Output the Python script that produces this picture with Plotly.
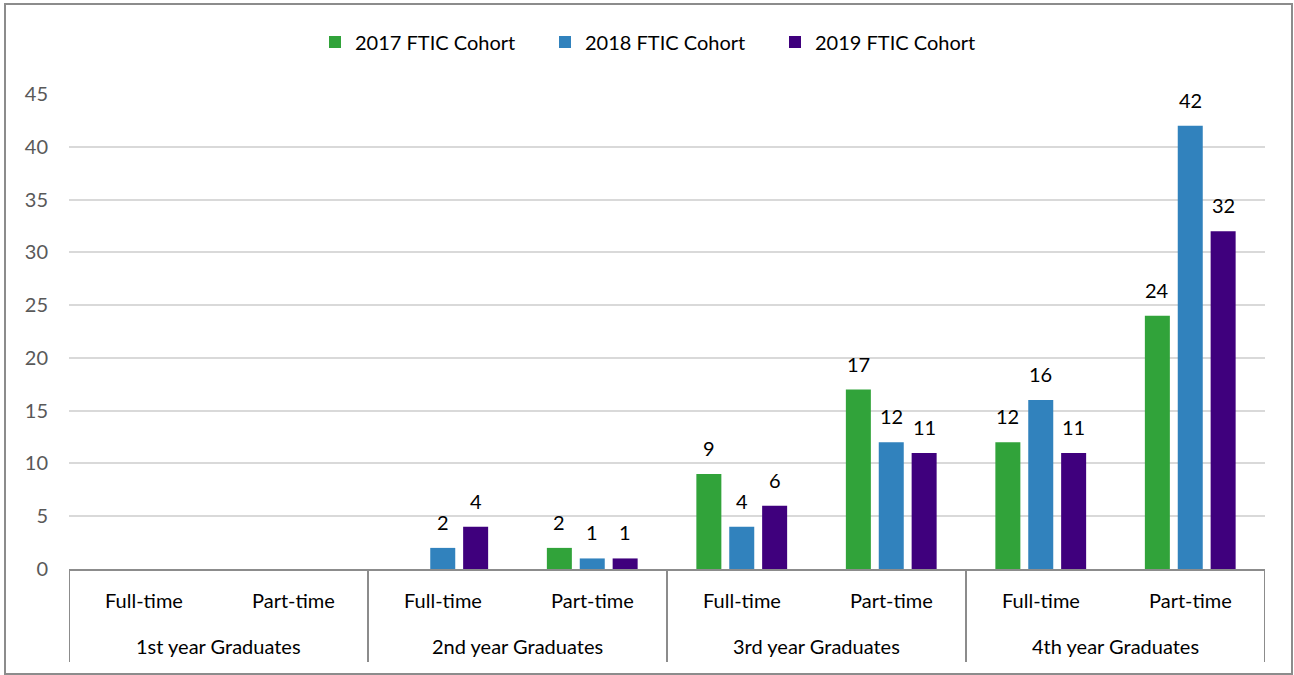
import plotly.graph_objects as go

group_labels = ["1st year Graduates", "2nd year Graduates", "3rd year Graduates", "4th year Graduates"]
status_labels = ["Full-time", "Part-time"]
categories = [f"{g}|{s}" for g in group_labels for s in status_labels]

series_names = ["2017 FTIC Cohort", "2018 FTIC Cohort", "2019 FTIC Cohort"]
v2017 = [None, None, None, 2, 9, 17, 12, 24]
v2018 = [None, None, 2, 1, 4, 12, 16, 42]
v2019 = [None, None, 4, 1, 6, 11, 11, 32]
colors = ["#31a33a", "#3182bd", "#3f007d"]

y_ticks = [0, 5, 10, 15, 20, 25, 30, 35, 40, 45]

FONT = "Lato, Calibri, Carlito, sans-serif"
W, H = 1294, 675
L, R, T, B = 69, 29, 94, 106
PH = H - T - B
PW = W - L - R


def py(pix):
    return (H - B - pix) / PH


fig = go.Figure()
for name, vals, col in zip(series_names, [v2017, v2018, v2019], colors):
    fig.add_trace(go.Bar(
        x=categories, y=vals, name=name,
        marker=dict(color=col, line=dict(width=0)),
    ))

annotations = []
slot = (PW / len(categories)) * (1 - 0.34) / 3
for i, vals in enumerate([v2017, v2018, v2019]):
    for c, v in zip(categories, vals):
        if v is None:
            continue
        annotations.append(dict(x=c, y=v, xref="x", yref="y", text=str(v), showarrow=False,
                                xanchor="center", yanchor="middle", yshift=26, xshift=(i - 1) * slot,
                                font=dict(size=20, color="#000000", family=FONT)))
for c in categories:
    annotations.append(dict(x=c, y=py(600), xref="x", yref="paper", text=c.split("|")[1],
                            showarrow=False, xanchor="center", yanchor="middle",
                            font=dict(size=20, color="#000000", family=FONT)))
for gi, g in enumerate(group_labels):
    annotations.append(dict(x=gi * 2 + 0.5, y=py(646), xref="x", yref="paper", text=g,
                            showarrow=False, xanchor="center", yanchor="middle",
                            font=dict(size=20, color="#000000", family=FONT)))

shapes = [dict(type="rect", xref="paper", yref="paper",
               x0=(5 - L) / PW, x1=(1292 - L) / PW, y0=py(674), y1=py(4),
               line=dict(color="#8c8c8c", width=2), fillcolor="rgba(0,0,0,0)", layer="below")]
for k in range(len(group_labels) + 1):
    shapes.append(dict(type="line", xref="x", yref="paper", x0=k * 2 - 0.5, x1=k * 2 - 0.5,
                       y0=0, y1=py(662), line=dict(color="#8c8c8c", width=2)))

fig.update_layout(
    width=W, height=H,
    margin=dict(l=L, r=R, t=T, b=B, autoexpand=False),
    paper_bgcolor="white", plot_bgcolor="white",
    barmode="group", bargap=0.34, bargroupgap=0.24,
    font=dict(family=FONT, size=20, color="#000000"),
    showlegend=True,
    legend=dict(orientation="h", x=(660 - L) / PW, xanchor="center", y=py(42), yanchor="middle",
                font=dict(size=20, color="#000000", family=FONT), itemwidth=30,
                entrywidth=185, entrywidthmode="pixels",
                traceorder="normal"),
    xaxis=dict(
        type="category", categoryorder="array", categoryarray=categories,
        range=[-0.5, len(categories) - 0.5],
        showline=True, linecolor="#8c8c8c", linewidth=2,
        showgrid=False, ticks="", showticklabels=False,
    ),
    yaxis=dict(
        range=[0, 45], tickvals=y_ticks, showgrid=True, gridcolor="#d9d9d9", gridwidth=1.5,
        zeroline=False, showline=False, ticks="",
        tickfont=dict(size=20, color="#595959", family=FONT), ticklabelstandoff=20,
    ),
    annotations=annotations,
    shapes=shapes,
)

fig.write_html("out.html", config={"displayModeBar": False},
               post_script="document.body.style.margin='0';")
